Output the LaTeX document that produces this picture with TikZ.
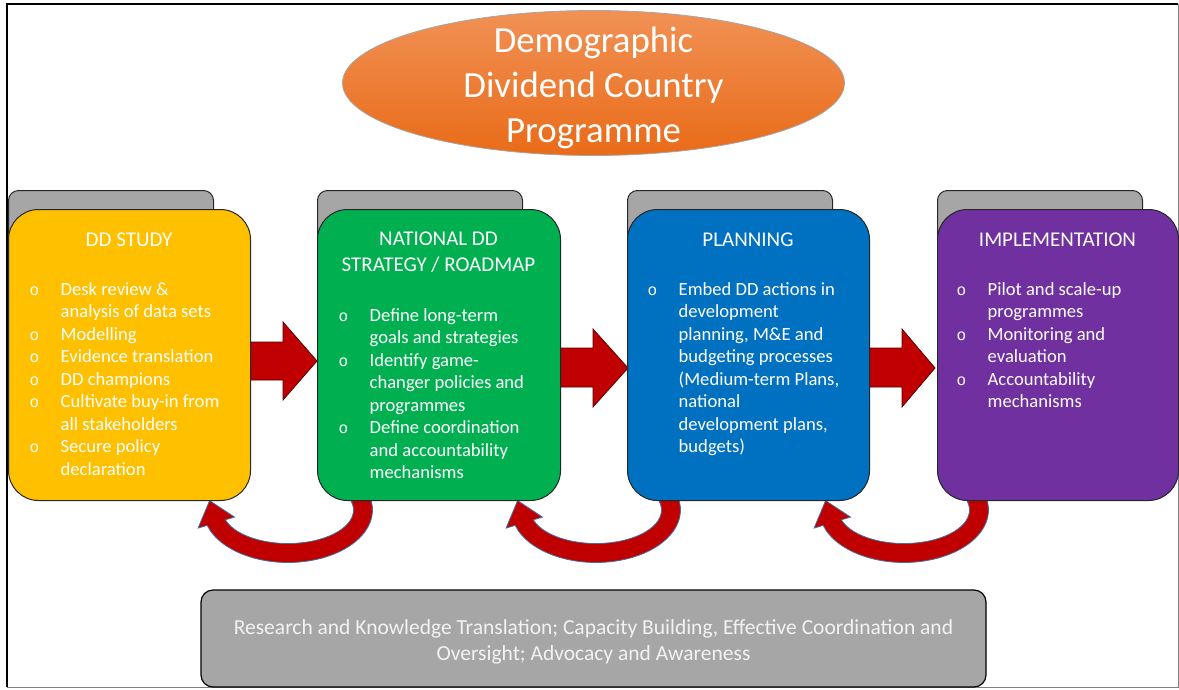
\documentclass[tikz,border=0pt]{standalone}
\usepackage{fontspec}
\setmainfont{Carlito}
\newfontfamily\bulfont{Liberation Mono}
\usetikzlibrary{shapes.geometric}
\definecolor{ddyellow}{HTML}{FFC000}
\definecolor{ddgreen}{HTML}{00B050}
\definecolor{ddblue}{HTML}{0070C0}
\definecolor{ddpurple}{HTML}{7030A0}
\definecolor{ddgray}{HTML}{A6A6A6}
\definecolor{ddred}{HTML}{C00000}
\definecolor{orangetop}{HTML}{F19155}
\definecolor{orangebot}{HTML}{E96B18}
\definecolor{arcline}{HTML}{41719C}
\definecolor{bottomtext}{HTML}{F2F2F2}
\newcommand{\bul}{\makebox[31pt][l]{\fontsize{16}{22.5}\bulfont o}}
\tikzset{
  backbox/.style={draw=black!85, line width=1pt, fill=ddgray, rounded corners=10pt,
    minimum width=205pt, minimum height=70pt, inner sep=0pt, anchor=north west},
  mainbox/.style={draw=black!85, line width=1pt, rounded corners=30pt,
    minimum width=242pt, minimum height=291pt, inner sep=0pt, anchor=north west},
  boxtitle/.style={text=white, font=\fontsize{21}{26}\selectfont, align=center, inner sep=0pt},
  boxlist/.style={text=white, font=\fontsize{18.6}{22.5}\selectfont, inner sep=0pt, anchor=base west},
  blockarrow/.style={fill=ddred, draw=black!55!ddred, line width=0.8pt},
  looparrow/.style={fill=ddred, draw=arcline, line width=0.8pt},
}
\begin{document}
\begin{tikzpicture}[x=1pt,y=1pt]
\useasboundingbox (0,0) rectangle (1179,-689);
% frame
\draw[black, line width=2.2pt] (7,-687) -- (7,-4) -- (1178,-4);
\draw[black!50, line width=1pt] (1178,-4) -- (1178,-687) -- (7,-687);

% loop-back arrows
\foreach \dx in {0,308,616}{
  \begin{scope}[shift={(\dx,0)}]
    \draw[looparrow] (369.6,-496.4)
      arc[start angle=15, end angle=-163, x radius=84.5, y radius=52.5]
      -- (198.1,-528.1) -- (209.6,-500.6) -- (234.5,-517.1) -- (225.36,-519.79)
      arc[start angle=-163, end angle=15, x radius=65.5, y radius=33.5] -- cycle;
  \end{scope}
}

% forward block arrows
\draw[blockarrow] (245,-342) -- (283,-342) -- (283,-322) -- (317,-361) -- (283,-400) -- (283,-380) -- (245,-380) -- cycle;
\draw[blockarrow] (555,-348) -- (593,-348) -- (593,-329) -- (628,-368) -- (593,-407) -- (593,-387) -- (555,-387) -- cycle;
\draw[blockarrow] (864,-348) -- (902,-348) -- (902,-329) -- (935,-368) -- (902,-407) -- (902,-387) -- (864,-387) -- cycle;

% back boxes
\node[backbox] (studyback) at (8,-190) {};
\node[backbox] (strategyback) at (317,-190) {};
\node[backbox] (planningback) at (627,-190) {};
\node[backbox] (implback) at (937,-190) {};

% main boxes
\node[mainbox, fill=ddyellow] (study) at (8,-209) {};
\node[mainbox, fill=ddgreen, minimum width=243pt] (strategy) at (317,-209) {};
\node[mainbox, fill=ddblue] (planning) at (627,-209) {};
\node[mainbox, fill=ddpurple, minimum width=241pt] (impl) at (937,-209) {};

% titles
\node[boxtitle] (studytitle) at (129,-240) {DD STUDY};
\node[boxtitle] (strategytitle) at (438.5,-252) {NATIONAL DD\\STRATEGY / ROADMAP};
\node[boxtitle] (planningtitle) at (748,-240) {PLANNING};
\node[boxtitle] (impltitle) at (1057.5,-240) {IMPLEMENTATION};

% lists
\node[boxlist] (studylist) at (29.5,-295) {\begin{tabular}[t]{@{}l@{}l@{}}
\bul & Desk review \&\\
 & analysis of data sets\\
\bul & Modelling\\
\bul & Evidence translation\\
\bul & DD champions\\
\bul & Cultivate buy-in from\\
 & all stakeholders\\
\bul & Secure policy\\
 & declaration
\end{tabular}};
\node[boxlist] (strategylist) at (338.5,-321) {\begin{tabular}[t]{@{}l@{}l@{}}
\bul & Define long-term\\
 & goals and strategies\\
\bul & Identify game-\\
 & changer policies and\\
 & programmes\\
\bul & Define coordination\\
 & and accountability\\
 & mechanisms
\end{tabular}};
\node[boxlist] (planninglist) at (647.5,-295) {\begin{tabular}[t]{@{}l@{}l@{}}
\bul & Embed DD actions in\\
 & development\\
 & planning, M\&E and\\
 & budgeting processes\\
 & (Medium-term Plans,\\
 & national\\
 & development plans,\\
 & budgets)
\end{tabular}};
\node[boxlist] (impllist) at (956.5,-295) {\begin{tabular}[t]{@{}l@{}l@{}}
\bul & Pilot and scale-up\\
 & programmes\\
\bul & Monitoring and\\
 & evaluation\\
\bul & Accountability\\
 & mechanisms
\end{tabular}};

% title ellipse
\node[ellipse, minimum width=502pt, minimum height=145pt, top color=orangetop,
  bottom color=orangebot, draw=black!35, line width=0.8pt] (programme) at (593.5,-83) {};
\node[text=white, font=\fontsize{36.8}{45}\selectfont, align=center, inner sep=0pt]
  (programmetext) at (593.5,-87.7) {Demographic\\Dividend Country\\Programme};

% bottom support box
\node[draw=black, line width=1.2pt, fill=ddgray, rounded corners=12pt,
  minimum width=785pt, minimum height=97pt, inner sep=0pt] (support) at (593.5,-638.5) {};
\node[text=bottomtext, font=\fontsize{21.5}{26}\selectfont, align=center, inner sep=0pt]
  (supporttext) at (593.5,-641.7) {Research and Knowledge Translation; Capacity Building, Effective Coordination and\\Oversight; Advocacy and Awareness};
\end{tikzpicture}
\end{document}
